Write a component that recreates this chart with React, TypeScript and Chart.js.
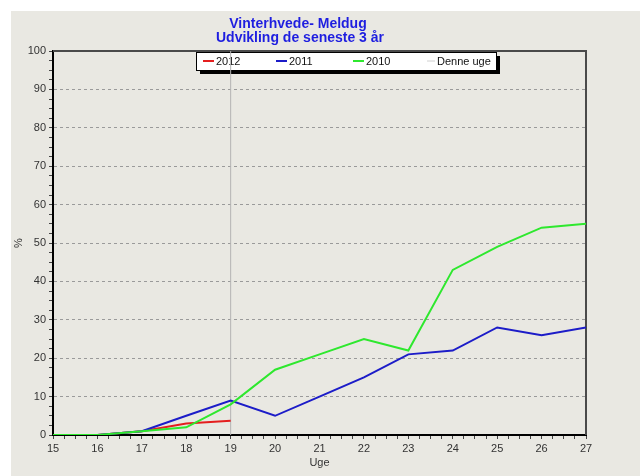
import React, { useEffect, useRef } from 'react';
import { Chart, registerables } from 'chart.js';

Chart.register(...registerables);

// ---- data ----
const weeks = [15, 16, 17, 18, 19, 20, 21, 22, 23, 24, 25, 26, 27];
const weeks2012 = [15, 16, 17, 18, 19];
const values2012 = [0, 0, 1, 3, 3.7];
const values2011 = [0, 0, 1, 5, 9, 5, 10, 15, 21, 22, 28, 26, 28];
const values2010 = [0, 0, 1, 2, 8, 17, 21, 25, 22, 43, 49, 54, 55];
const currentWeek = 19;
const currentWeekSpan = [0, 100];
const titleLines = ['Vinterhvede- Meldug', 'Udvikling de seneste 3 år'];
const legendLabels = ['2012', '2011', '2010', 'Denne uge'];
const xAxisTitle = 'Uge';
const yAxisTitle = '%';

const COLORS = {
  red: '#e41e1e',
  blue: '#1c1cc8',
  green: '#2ee82e',
  now: '#b4b4b4',
};
const FONT = "'Liberation Sans', Arial, sans-serif";

const decorPlugin = {
  id: 'decor',
  beforeDatasetsDraw(chart: any) {
    const { ctx, chartArea } = chart;
    const { left, right, top, bottom } = chartArea;
    ctx.save();
    // top & right frame
    ctx.strokeStyle = '#4a4a4a';
    ctx.lineWidth = 2;
    ctx.beginPath();
    ctx.moveTo(left, top);
    ctx.lineTo(right, top);
    ctx.lineTo(right, bottom);
    ctx.stroke();

    // legend box
    const bx = 185, by = 41, bw = 300, bh = 18;
    ctx.fillStyle = '#000';
    ctx.fillRect(bx + 4, by + 4, bw, bh);
    ctx.fillStyle = '#fff';
    ctx.fillRect(bx, by, bw, bh);
    ctx.strokeStyle = '#000';
    ctx.lineWidth = 1;
    ctx.strokeRect(bx + 0.5, by + 0.5, bw, bh);

    const items = [
      { color: COLORS.red, x1: 192, x2: 203, tx: 205, w: 2 },
      { color: COLORS.blue, x1: 265, x2: 276, tx: 278, w: 2 },
      { color: COLORS.green, x1: 342, x2: 353, tx: 355, w: 2 },
      { color: '#d0d0d0', x1: 416, x2: 424, tx: 426, w: 1 },
    ];
    const cy = 50;
    ctx.font = `11px ${FONT}`;
    ctx.textBaseline = 'middle';
    ctx.textAlign = 'left';
    items.forEach((it, i) => {
      ctx.strokeStyle = it.color;
      ctx.lineWidth = it.w;
      ctx.beginPath();
      ctx.moveTo(it.x1, cy);
      ctx.lineTo(it.x2, cy);
      ctx.stroke();
      ctx.fillStyle = '#111';
      ctx.fillText(legendLabels[i], it.tx, cy + 0.5);
    });
    ctx.restore();
  },
  afterDraw(chart: any) {
    const { ctx } = chart;
    ctx.save();
    ctx.fillStyle = '#1e1ee0';
    ctx.font = `bold 14px ${FONT}`;
    ctx.textAlign = 'center';
    ctx.textBaseline = 'alphabetic';
    ctx.fillText(titleLines[0], 287, 16.5);
    ctx.fillText(titleLines[1], 289, 31);
    ctx.restore();
  },
};

export default function App() {
  const canvasRef = useRef<HTMLCanvasElement | null>(null);

  useEffect(() => {
    const canvas = canvasRef.current;
    if (!canvas) return;
    const toPts = (xs: number[], ys: number[]) => xs.map((x, i) => ({ x, y: ys[i] }));
    const chart = new Chart(canvas, {
      type: 'line',
      data: {
        datasets: [
          {
            label: legendLabels[2],
            data: toPts(weeks, values2010),
            borderColor: COLORS.green,
            borderWidth: 2,
            pointRadius: 0,
            tension: 0,
          },
          {
            label: legendLabels[1],
            data: toPts(weeks, values2011),
            borderColor: COLORS.blue,
            borderWidth: 2,
            pointRadius: 0,
            tension: 0,
          },
          {
            label: legendLabels[0],
            data: toPts(weeks2012, values2012),
            borderColor: COLORS.red,
            borderWidth: 2,
            pointRadius: 0,
            tension: 0,
          },
          {
            label: legendLabels[3],
            data: currentWeekSpan.map((y) => ({ x: currentWeek, y })),
            borderColor: COLORS.now,
            borderWidth: 1,
            pointRadius: 0,
            tension: 0,
          },
        ],
      },
      options: {
        responsive: false,
        animation: false,
        devicePixelRatio: 1,
        layout: { padding: { left: 0, top: 40, right: 54, bottom: 0 } },
        plugins: {
          legend: { display: false },
          title: { display: false },
          tooltip: { enabled: false },
        },
        scales: {
          x: {
            type: 'linear',
            min: weeks[0],
            max: weeks[weeks.length - 1],
            ticks: {
              stepSize: 0.25,
              autoSkip: false,
              maxRotation: 0,
              padding: 3,
              color: '#333',
              font: { family: FONT, size: 11 },
              callback: (v: any) => (Number.isInteger(v) ? String(v) : ''),
            },
            grid: {
              drawOnChartArea: false,
              drawTicks: true,
              tickLength: 4,
              tickColor: '#444',
            },
            border: { display: true, color: '#000', width: 2 },
            title: {
              display: true,
              text: xAxisTitle,
              color: '#333',
              font: { family: FONT, size: 11 },
              padding: { top: 0, bottom: 6 },
            },
            afterFit: (s: any) => {
              s.height = 41;
            },
          },
          y: {
            type: 'linear',
            min: 0,
            max: 100,
            ticks: {
              stepSize: 2.5,
              autoSkip: false,
              padding: 3,
              color: '#333',
              font: { family: FONT, size: 11 },
              callback: (v: any) => (v % 10 === 0 ? String(v) : ''),
            },
            grid: {
              drawTicks: true,
              tickLength: 4,
              color: (c: any) => {
                const v = c.tick ? c.tick.value : 0;
                return v % 10 === 0 && v !== 0 && v !== 100 ? '#9a9a9a' : 'rgba(0,0,0,0)';
              },
              tickColor: '#444',
              lineWidth: 1,
            },
            border: { display: true, color: '#000', width: 2, dash: [3, 3] },
            title: {
              display: true,
              text: yAxisTitle,
              color: '#333',
              font: { family: FONT, size: 11 },
              padding: { top: 1, bottom: 0 },
            },
            afterFit: (s: any) => {
              s.width = 42;
            },
          },
        },
      },
      plugins: [decorPlugin],
    } as any);
    return () => chart.destroy();
  }, []);

  return (
    <div
      style={{
        position: 'absolute',
        left: 0,
        top: 0,
        width: 640,
        height: 476,
        background: '#ffffff',
        overflow: 'hidden',
      }}
    >
      <canvas
        ref={canvasRef}
        width={629}
        height={465}
        style={{
          position: 'absolute',
          left: 11,
          top: 11,
          width: 629,
          height: 465,
          background: '#e9e8e2',
        }}
      />
    </div>
  );
}
